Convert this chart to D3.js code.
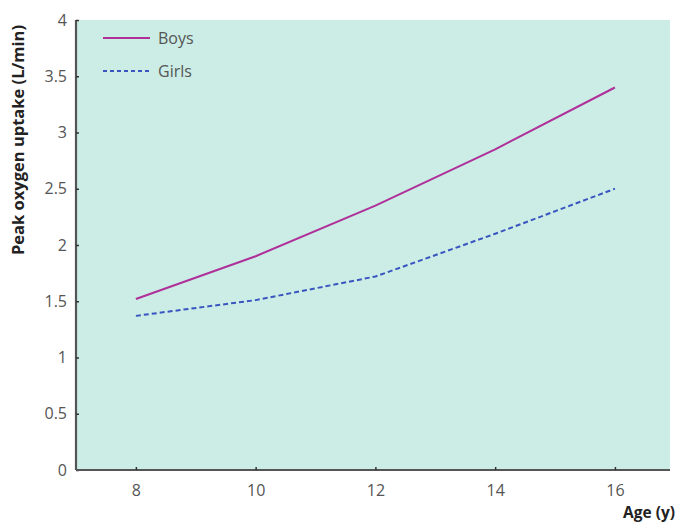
<!DOCTYPE html>
<html><head><meta charset="utf-8">
<script src="https://cdn.jsdelivr.net/npm/d3@7"></script>
<style>body{margin:0;background:#fff}svg{display:block}text{font-family:"Open Sans","Noto Sans",sans-serif}</style>
</head><body><svg id="c" width="676" height="523"></svg>
<script>
const ages = [8, 10, 12, 14, 16];
const boys = [1.52, 1.90, 2.35, 2.85, 3.40];
const girls = [1.37, 1.51, 1.72, 2.10, 2.50];
const yTicks = [0, 0.5, 1, 1.5, 2, 2.5, 3, 3.5, 4];
const xTicks = [8, 10, 12, 14, 16];
const seriesNames = ["Boys", "Girls"];

const svg = d3.select("#c");
const x = d3.scaleLinear().domain([7, 16.92]).range([76, 670]);
const y = d3.scaleLinear().domain([0, 4]).range([470, 20]);

svg.append("rect").attr("x", x(7)).attr("y", y(4)).attr("width", x(16.92) - x(7)).attr("height", y(0) - y(4)).attr("fill", "#cbede6");

const yAxis = svg.append("g").attr("transform", `translate(${x(7)},0)`)
  .call(d3.axisLeft(y).tickValues(yTicks).tickFormat(d => d).tickSize(-3).tickPadding(9));
const xAxis = svg.append("g").attr("transform", `translate(0,${y(0)})`)
  .call(d3.axisBottom(x).tickValues(xTicks).tickSize(-3).tickPadding(15));
[yAxis, xAxis].forEach(g => {
  g.select(".domain").attr("stroke", "#555").attr("stroke-width", 2.2);
  g.selectAll(".tick line").attr("stroke", "#333").attr("stroke-width", 1.5);
  g.selectAll(".tick text").attr("fill", "#555").attr("font-size", 16);
});
yAxis.select(".domain").attr("d", `M0,${y(0)}V${y(4)}`);
xAxis.select(".domain").attr("d", `M${x(7)},0H${x(16.92)}`);

const line = d3.line().x((d, i) => x(ages[i])).y(d => y(d));
svg.append("path").datum(boys).attr("d", line).attr("fill", "none").attr("stroke", "#b0309a").attr("stroke-width", 2);
svg.append("path").datum(girls).attr("d", line).attr("fill", "none").attr("stroke", "#3a55c0").attr("stroke-width", 2).attr("stroke-dasharray", "5,3");

const leg = [{n: seriesNames[0], c: "#b0309a", d: null, yy: 38}, {n: seriesNames[1], c: "#3a55c0", d: "4,3", yy: 71}];
leg.forEach(l => {
  svg.append("line").attr("x1", 103).attr("x2", 150).attr("y1", l.yy).attr("y2", l.yy)
    .attr("stroke", l.c).attr("stroke-width", 2).attr("stroke-dasharray", l.d);
  svg.append("text").attr("x", 158).attr("y", l.yy + 6).attr("fill", "#555").attr("font-size", 16).text(l.n);
});

svg.append("text").attr("transform", "translate(24,140) rotate(-90)").attr("text-anchor", "middle")
  .attr("font-weight", "bold").attr("font-size", 16.5).attr("fill", "#222").text("Peak oxygen uptake (L/min)");
svg.append("text").attr("x", 675).attr("y", 518).attr("text-anchor", "end")
  .attr("font-weight", "bold").attr("font-size", 15.5).attr("fill", "#222").text("Age (y)");
</script></body></html>
